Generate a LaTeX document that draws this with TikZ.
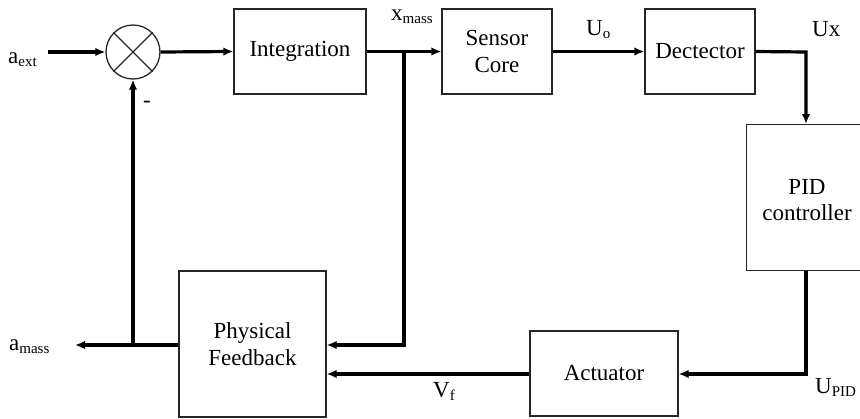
\documentclass[tikz,border=0pt]{standalone}
\usepackage{fontspec}
\setmainfont{Liberation Serif}
\usetikzlibrary{arrows.meta}
\newcommand\lowsub[1]{\raisebox{-0.3ex}{\fontsize{15}{15}\selectfont #1}}
\tikzset{
  blk/.style={draw=black!85, line width=1.3pt, inner sep=0pt, align=center,
              font=\fontsize{23}{26.5}\selectfont},
  conn/.style={line width=3.2pt, -{Latex[length=10pt,width=8.5pt]}},
  lbl/.style={inner sep=0pt, anchor=base west, font=\fontsize{23}{26}\selectfont},
}
\begin{document}
\begin{tikzpicture}[x=1pt,y=-1pt]
\useasboundingbox (0,0) rectangle (860,418);
% blocks
\node[blk, minimum width=132pt, minimum height=85pt] (int) at (300,51.5) {Integration};
\node[blk, minimum width=110pt, minimum height=85pt] (sens) at (497,51.5) {Sensor\\Core};
\node[blk, minimum width=110pt, minimum height=85pt] (det) at (700,51.5) {Dectector};
\node[blk, minimum width=126pt, minimum height=146pt, anchor=north west] (pidbox) at (746,124) {};
\node[blk, draw=none, anchor=center] (pid) at (807,200) {PID\\controller};
\node[blk, minimum width=148pt, minimum height=85pt] (act) at (604,373.5) {Actuator};
\node[blk, minimum width=147pt, minimum height=146pt] (pf) at (252.5,344) {Physical\\Feedback};
\node[draw=black!85, line width=1.3pt, circle, minimum size=54pt, inner sep=0pt] (sum) at (133,52) {};
\draw[line width=1.3pt, black!85] (sum.north west) -- (sum.south east) (sum.north east) -- (sum.south west);
% coordinates
\coordinate (ain) at (48,52);
\coordinate (jx) at (404,52);
\coordinate (jxd) at (404,345);
\coordinate (dcorner) at (806,52);
\coordinate (pcorner) at (806,374);
\coordinate (aout) at (75,345);
\coordinate (ja) at (133,345);
% connectors
\draw[conn] (ain) -- (sum.west);
\draw[conn] (sum.east) -- (int.west);
\draw[conn] (int.east) -- (sens.west);
\draw[conn] (jx) -- (jxd) -- (pf.east |- jxd);
\draw[conn] (sens.east) -- (det.west);
\draw[conn] (det.east) -- (dcorner) -- (pidbox.north -| dcorner);
\draw[conn] (pidbox.south -| pcorner) -- (pcorner) -- (act.east |- pcorner);
\draw[conn] (act.west |- pcorner) -- (pf.east |- pcorner);
\draw[conn] (pf.west |- aout) -- (aout);
\draw[conn] (ja) -- (sum.south);
% labels
\node[lbl] (la) at (8,63) {a\lowsub{ext}};
\node[lbl] (lx) at (391,20) {x\lowsub{mass}};
\node[lbl] (lu) at (586,35) {U\lowsub{o}};
\node[lbl] (lux) at (812,36) {Ux};
\node[lbl] (lupid) at (815,393) {U\lowsub{PID}};
\node[lbl] (lvf) at (433,397) {V\lowsub{f}};
\node[lbl] (lam) at (9,350) {a\lowsub{mass}};
\node[lbl] (lminus) at (143,107) {-};
\end{tikzpicture}
\end{document}
